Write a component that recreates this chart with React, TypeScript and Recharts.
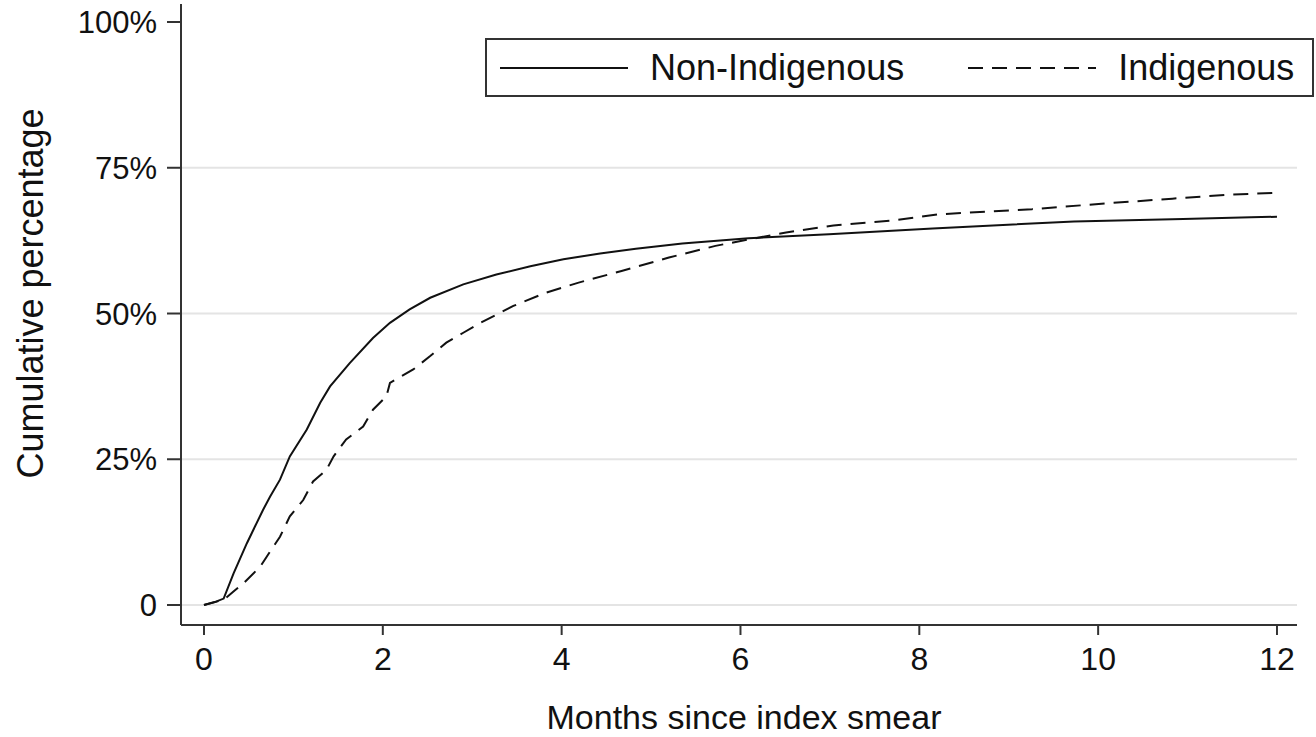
import React from 'react';
import { LineChart, Line, XAxis, YAxis, CartesianGrid, Legend, Label } from 'recharts';

// Months since index smear (x) and cumulative percentage (y)
const nonIndigenousMonths = [0, 0.12, 0.22, 0.33, 0.48, 0.66, 0.74, 0.85, 0.96, 1.15, 1.3, 1.41, 1.63, 1.89, 2.08, 2.3, 2.53, 2.9, 3.27, 3.65, 4.02, 4.43, 4.83, 5.35, 6.09, 6.99, 8.15, 9.73, 10.95, 11.71, 12];
const nonIndigenousPct = [0, 0.5, 1.1, 5.4, 10.6, 16.3, 18.6, 21.5, 25.5, 30.1, 34.7, 37.5, 41.5, 45.8, 48.4, 50.7, 52.7, 55.0, 56.7, 58.1, 59.3, 60.3, 61.1, 62.0, 62.9, 63.6, 64.6, 65.8, 66.2, 66.5, 66.6];

const indigenousMonths = [0, 0.22, 0.33, 0.44, 0.63, 0.74, 0.85, 0.96, 1.11, 1.22, 1.37, 1.45, 1.59, 1.78, 1.89, 2.04, 2.08, 2.34, 2.53, 2.71, 2.9, 3.09, 3.27, 3.46, 3.83, 4.19, 4.67, 5.2, 5.72, 6.09, 6.51, 7.04, 7.67, 8.2, 9.26, 10.1, 10.83, 11.47, 12];
const indigenousPct = [0, 0.9, 2.3, 3.7, 6.6, 9.2, 11.7, 15.2, 18.0, 21.2, 23.2, 25.5, 28.4, 30.6, 33.5, 35.8, 38.1, 40.4, 42.7, 45.0, 46.7, 48.4, 49.8, 51.3, 53.6, 55.3, 57.3, 59.6, 61.6, 62.7, 63.9, 65.1, 65.9, 67.0, 67.9, 68.9, 69.7, 70.4, 70.7];

const xTicks = [0, 2, 4, 6, 8, 10, 12];
const yTicks = [0, 25, 50, 75, 100];
const gridValues = [0, 25, 50, 75];
const seriesNames = ['Non-Indigenous', 'Indigenous'];
const xAxisTitle = 'Months since index smear';
const yAxisTitle = 'Cumulative percentage';

const nonIndigenousData = nonIndigenousMonths.map((m, i) => ({ m, pct: nonIndigenousPct[i] }));
const indigenousData = indigenousMonths.map((m, i) => ({ m, pct: indigenousPct[i] }));

const FONT = '"Liberation Sans", Arial, Helvetica, sans-serif';
const INK = '#111';
const AXIS = '#333';
const DASH = '15 9';

const dashBySeries: Record<string, string | undefined> = {
  [seriesNames[0]]: undefined,
  [seriesNames[1]]: DASH,
};

function LegendBox(props: any) {
  const payload = [...(props.payload || [])].sort(
    (a: any, b: any) => seriesNames.indexOf(a.value) - seriesNames.indexOf(b.value)
  );
  return (
    <div
      style={{
        boxSizing: 'border-box',
        width: 829,
        height: 59,
        border: `2px solid ${AXIS}`,
        background: '#fff',
        display: 'flex',
        alignItems: 'center',
        fontFamily: FONT,
        fontSize: 36,
        color: INK,
        whiteSpace: 'nowrap',
      }}
    >
      {payload.map((entry: any, i: number) => (
        <div key={entry.value} style={{ display: 'flex', alignItems: 'center', marginLeft: i === 0 ? 13 : 64 }}>
          <svg width={128} height={10} style={{ display: 'block' }}>
            <line x1={0} y1={5} x2={128} y2={5} stroke={INK} strokeWidth={2} strokeDasharray={dashBySeries[entry.value]} />
          </svg>
          <span style={{ marginLeft: 22, lineHeight: 1 }}>{entry.value}</span>
        </div>
      ))}
    </div>
  );
}

const XTitle = (props: any) => {
  const vb = props.viewBox || { x: 0, y: 0, width: 0, height: 0 };
  return (
    <text x={vb.x + vb.width / 2 + 5} y={vb.y + 104} textAnchor="middle" fontFamily={FONT} fontSize={34} fill={INK}>
      {xAxisTitle}
    </text>
  );
};

const YTitle = (props: any) => {
  const vb = props.viewBox || { x: 0, y: 0, width: 0, height: 0 };
  const cx = vb.x + 43;
  const cy = vb.y + vb.height / 2 - 21;
  return (
    <text x={cx} y={cy} transform={`rotate(-90, ${cx}, ${cy})`} textAnchor="middle" fontFamily={FONT} fontSize={36} fill={INK}>
      {yAxisTitle}
    </text>
  );
};

export default function App() {
  return (
    <div style={{ position: 'absolute', left: 0, top: 0, width: 1316, height: 737, background: '#fff' }}>
      <LineChart width={1316} height={737} margin={{ top: 4, right: 19, bottom: 0, left: 0 }}>
        <CartesianGrid horizontal vertical={false} horizontalValues={gridValues} stroke="#e4e4e4" strokeWidth={2} />
        <XAxis
          type="number"
          dataKey="m"
          domain={[-0.257, 12.224]}
          ticks={xTicks}
          allowDataOverflow
          height={112}
          tickSize={10}
          tickMargin={12}
          axisLine={{ stroke: AXIS, strokeWidth: 2 }}
          tickLine={{ stroke: AXIS, strokeWidth: 2 }}
          tick={{ fill: INK, fontSize: 32, fontFamily: FONT }}
        >
          <Label content={XTitle} />
        </XAxis>
        <YAxis
          type="number"
          domain={[-3.43, 103.09]}
          ticks={yTicks}
          allowDataOverflow
          width={181}
          tickSize={14}
          tickMargin={10}
          axisLine={{ stroke: AXIS, strokeWidth: 2 }}
          tickLine={{ stroke: AXIS, strokeWidth: 2 }}
          tick={{ fill: INK, fontSize: 31, fontFamily: FONT }}
          tickFormatter={(v: number) => (v === 0 ? '0' : `${v}%`)}
        >
          <Label content={YTitle} />
        </YAxis>
        <Legend
          layout="horizontal"
          verticalAlign="middle"
          align="center"
          content={LegendBox}
          wrapperStyle={{ left: 485, top: 38, width: 829, height: 59 }}
        />
        <Line
          data={nonIndigenousData}
          dataKey="pct"
          name={seriesNames[0]}
          type="linear"
          stroke={INK}
          strokeWidth={2}
          dot={false}
          activeDot={false}
          isAnimationActive={false}
        />
        <Line
          data={indigenousData}
          dataKey="pct"
          name={seriesNames[1]}
          type="linear"
          stroke={INK}
          strokeWidth={2}
          strokeDasharray={DASH}
          dot={false}
          activeDot={false}
          isAnimationActive={false}
        />
      </LineChart>
    </div>
  );
}
